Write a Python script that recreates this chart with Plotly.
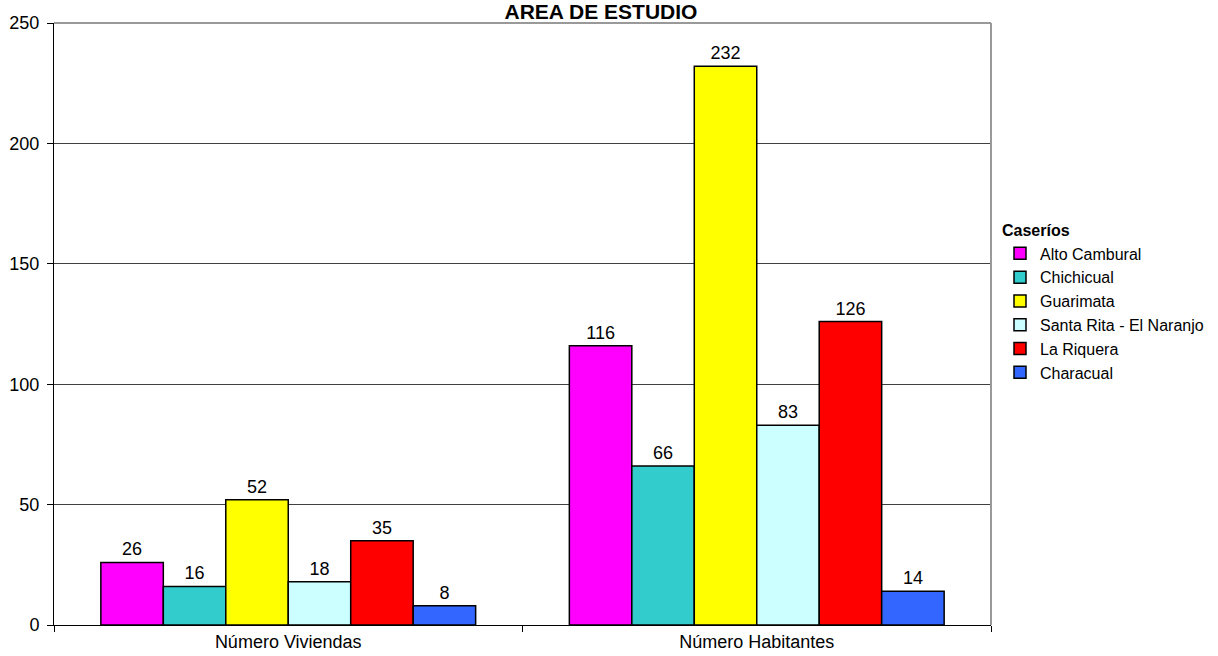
import plotly.graph_objects as go

categories = ["Número Viviendas", "Número Habitantes"]
series_names = ["Alto Cambural", "Chichicual", "Guarimata", "Santa Rita - El Naranjo", "La Riquera", "Characual"]
alto_cambural = [26, 116]
chichicual = [16, 66]
guarimata = [52, 232]
santa_rita = [18, 83]
la_riquera = [35, 126]
characual = [8, 14]
colors = ["#FF00FF", "#33CCCC", "#FFFF00", "#CCFFFF", "#FF0000", "#3366FF"]
y_ticks = [0, 50, 100, 150, 200, 250]

values = [alto_cambural, chichicual, guarimata, santa_rita, la_riquera, characual]
FONT = "Arial, Liberation Sans, sans-serif"

W, H = 1218, 656
L, R, T, B = 54, 227, 23, 31

fig = go.Figure()
for name, vals, col in zip(series_names, values, colors):
    fig.add_trace(go.Bar(
        x=categories, y=vals, name=name,
        marker=dict(color=col, line=dict(color="black", width=1.5)),
        text=vals, textposition="outside",
        textfont=dict(family=FONT, size=18, color="black"),
        cliponaxis=False,
    ))

fig.update_layout(
    width=W, height=H,
    margin=dict(l=L, r=R, t=T, b=B, autoexpand=False),
    paper_bgcolor="white", plot_bgcolor="white",
    barmode="group", bargap=0.2, bargroupgap=0,
    font=dict(family=FONT, size=18, color="black"),
    title=dict(text="<b>AREA DE ESTUDIO</b>", font=dict(family=FONT, size=21, color="black"),
               x=601 / W, xanchor="center", xref="container",
               y=1 - 12 / H, yanchor="middle", yref="container"),
    showlegend=True,
    legend=dict(title=dict(text="<b>Caseríos</b>", font=dict(family=FONT, size=16)),
                font=dict(family=FONT, size=16, color="black"),
                x=(1000 - L) / (W - L - R), xanchor="left", y=0.68, yanchor="top",
                itemwidth=30, tracegroupgap=0, bgcolor="rgba(0,0,0,0)"),
    xaxis=dict(showline=True, linecolor="black", linewidth=1, ticks="outside",
               tickson="boundaries", ticklen=6, tickcolor="black", showgrid=False,
               automargin=False),
    yaxis=dict(range=[0, 250], tickvals=y_ticks, showline=True, linecolor="black", linewidth=1,
               ticks="outside", ticklen=6, tickcolor="black", showgrid=True,
               gridcolor="#404040", gridwidth=1, zeroline=False, automargin=False,
               ticklabelstandoff=4),
    shapes=[
        dict(type="line", xref="paper", yref="paper", x0=0, x1=1, y0=1, y1=1,
             line=dict(color="#999999", width=2)),
        dict(type="line", xref="paper", yref="paper", x0=1, x1=1, y0=0, y1=1,
             line=dict(color="#999999", width=2)),
    ],
)

fig.write_html("out.html", config={"displayModeBar": False},
               post_script="document.body.style.margin='0';document.body.style.overflow='hidden';")
